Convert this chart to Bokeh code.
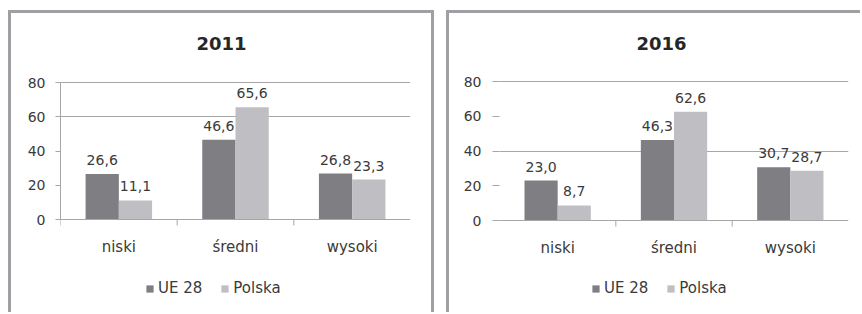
import math
from bokeh.plotting import figure
from bokeh.models import (Range1d, FixedTicker, Legend, LegendItem, Label,
                          ColumnDataSource, Span)
from bokeh.layouts import row
from bokeh.embed import file_html
from bokeh.resources import INLINE
from bokeh.core.properties import value
from bokeh.transform import dodge

categories = ["niski", "średni", "wysoki"]
years = ["2011", "2016"]
ue_2011 = [26.6, 46.6, 26.8]
pl_2011 = [11.1, 65.6, 23.3]
ue_2016 = [23.0, 46.3, 30.7]
pl_2016 = [8.7, 62.6, 28.7]
y_ticks = [0, 20, 40, 60, 80]
series_names = ["UE 28", "Polska"]

FONT = "DejaVu Sans"
C_UE = "#7e7e83"
C_PL = "#bfbfc3"
C_LINE = "#a6a6a6"
C_TEXT = "#3a3a3a"
C_BORDER = "#a0a0a4"

FIG_H = 312
FRAME_TOP = 30          # page px
FRAME_BOTTOM = 302      # page px


def fmt(v):
    return f"{v:.1f}".replace(".", ",")


def border_css(bands):
    imgs, pos, sizes = [], [], []
    for (x, y, w, h) in bands:
        imgs.append(f"linear-gradient({C_BORDER}, {C_BORDER})")
        pos.append(f"{x}px {y}px")
        sizes.append(f"{w}px {h}px")
    return {"background-image": ", ".join(imgs),
            "background-position": ", ".join(pos),
            "background-size": ", ".join(sizes),
            "background-repeat": "no-repeat"}


def make_panel(year, ue, pl, cfg):
    ncat = len(categories)
    pos = [i + 0.5 for i in range(ncat)]
    # y range chosen so that 0..80 sits at page y0..y80 inside a taller frame
    y0, y80 = cfg["y0"], cfg["y80"]
    ymax = y_ticks[-1]
    scale = (y0 - y80) / ymax
    y_top = ymax + (y80 - FRAME_TOP) / scale
    y_bot = -(FRAME_BOTTOM - y0) / scale
    fl, fr = cfg["fl"], cfg["fr"]

    def xdata(px):
        return (px - fl) / (fr - fl) * ncat

    def ydata(py):
        return (y0 - py) / scale

    src = ColumnDataSource(dict(
        x=pos, ue=ue, pl=pl, cat=categories,
        ue_lab=[fmt(v) for v in ue], pl_lab=[fmt(v) for v in pl]))
    p = figure(width=cfg["width"], height=FIG_H, output_backend="svg",
               toolbar_location=None, x_range=Range1d(0, ncat),
               y_range=Range1d(y_bot, y_top), x_axis_type=None,
               min_border_left=fl - cfg["page_x"],
               min_border_right=cfg["page_x"] + cfg["width"] - fr,
               min_border_top=FRAME_TOP, min_border_bottom=FIG_H - FRAME_BOTTOM)
    p.border_fill_color = None
    p.background_fill_color = None
    p.outline_line_color = None
    p.title.text = ""
    p.title.standoff = 0
    p.title.text_font_size = "8px"
    p.styles = border_css(cfg["bands"])

    # grid (only the lines visible in the scan)
    p.xgrid.visible = False
    p.ygrid.ticker = FixedTicker(ticks=cfg["grid"])
    p.ygrid.grid_line_color = C_LINE
    p.ygrid.grid_line_width = 1

    # x axis line at value 0 and boundary tick marks
    p.add_layout(Span(location=0, dimension="width", line_color=C_LINE,
                      line_width=1))
    p.ray(x=cfg["bounds"], y=[0] * len(cfg["bounds"]), length=6,
          length_units="screen", angle=-math.pi / 2, line_color=C_LINE,
          line_width=1)

    bw = 0.285
    r_ue = p.vbar(x=dodge("x", -bw / 2), top="ue", width=bw, source=src,
                  fill_color=C_UE, line_color=None)
    r_pl = p.vbar(x=dodge("x", bw / 2), top="pl", width=bw, source=src,
                  fill_color=C_PL, line_color=None)
    for col, lab in (("ue", "ue_lab"), ("pl", "pl_lab")):
        off = -bw / 2 if col == "ue" else bw / 2
        p.text(x=dodge("x", off), y=col, text=lab, source=src,
               text_align="center", text_baseline="alphabetic", y_offset=-14,
               text_font=value(FONT), text_font_size="14px",
               text_color=C_TEXT)

    # category labels under the axis
    p.text(x="x", y=0, text="cat", source=src, text_align="center",
           text_baseline="top", y_offset=18, text_font=value(FONT),
           text_font_size="15px", text_color=C_TEXT)

    # y axis
    ya = p.yaxis[0]
    ya.ticker = FixedTicker(ticks=y_ticks)
    ya.bounds = (y_ticks[0], y_ticks[-1])
    ya.axis_line_color = C_LINE
    ya.axis_line_alpha = cfg["yline"]
    ya.major_tick_line_color = C_LINE
    ya.major_tick_out = cfg["ytick"]
    ya.major_tick_in = 0
    ya.minor_tick_line_color = None
    ya.major_label_standoff = cfg["ystand"]
    ya.major_label_text_font = FONT
    ya.major_label_text_font_size = "14px"
    ya.major_label_text_color = C_TEXT

    # title
    p.add_layout(Label(x=xdata(cfg["title_x"]), y=ydata(43), text=year,
                       text_align="center", text_baseline="middle",
                       text_font=FONT, text_font_size="18px",
                       text_font_style="bold", text_color="#262626"))

    legend = Legend(items=[LegendItem(label=series_names[0], renderers=[r_ue]),
                           LegendItem(label=series_names[1], renderers=[r_pl])],
                    orientation="horizontal",
                    location=(cfg["leg_x"] - fl, FRAME_BOTTOM - 297),
                    glyph_width=9, glyph_height=9, label_height=18,
                    label_standoff=4, spacing=18, padding=0, margin=0,
                    border_line_color=None, background_fill_alpha=0,
                    label_text_font=FONT, label_text_font_size="15px",
                    label_text_color=C_TEXT)
    p.add_layout(legend, "center")
    return p


# panel 1 spans page x 0..442, panel 2 spans page x 442..860 (page px)
cfg1 = dict(page_x=0, width=442, fl=60, fr=410, y0=219, y80=82,
            bands=[(8, 10, 3, 400), (8, 10, 426, 3), (431, 10, 3, 400)],
            grid=[60, 80], yline=1, ytick=5, ystand=10, bounds=[0, 1, 2],
            title_x=221, leg_x=145)
cfg2 = dict(page_x=442, width=418, fl=499, fr=848, y0=220, y80=81,
            bands=[(4, 10, 3, 400), (4, 10, 420, 3)],
            grid=[40, 80], yline=0, ytick=7, ystand=11, bounds=[1, 2],
            title_x=661, leg_x=591)

p1 = make_panel(years[0], ue_2011, pl_2011, cfg1)
p2 = make_panel(years[1], ue_2016, pl_2016, cfg2)
layout = row(p1, p2)

open("out.html", "w").write(file_html(layout, INLINE))
